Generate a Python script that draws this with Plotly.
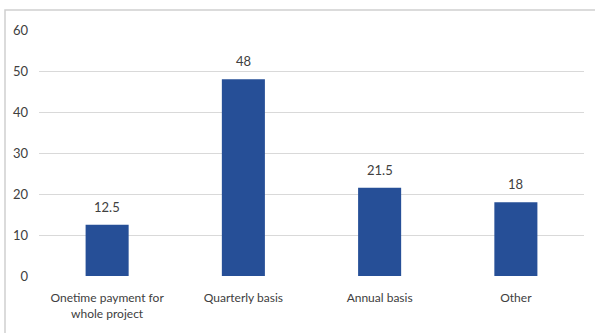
import plotly.graph_objects as go

categories = ["Onetime payment for<br>whole project", "Quarterly basis", "Annual basis", "Other"]
values = [12.5, 48, 21.5, 18]
value_labels = ["12.5", "48", "21.5", "18"]

FONT = "Lato"
TEXT = "#404040"

fig = go.Figure(
    go.Bar(
        x=categories,
        y=values,
        marker=dict(color="#264F97", line=dict(width=0)),
        hoverinfo="skip",
    )
)

# value labels sitting above each bar
for cat, val, lab in zip(categories, values, value_labels):
    fig.add_annotation(
        x=cat, y=val, text=lab, showarrow=False,
        yanchor="bottom", yshift=8,
        font=dict(family=FONT, size=13, color=TEXT),
    )

fig.update_layout(
    width=595,
    height=333,
    margin=dict(l=39, r=11, t=30, b=57),
    paper_bgcolor="white",
    plot_bgcolor="white",
    bargap=0.684,
    showlegend=False,
    font=dict(family=FONT, size=13, color=TEXT),
    shapes=[
        dict(
            type="rect", xref="paper", yref="paper",
            x0=-34 / 545, x1=1.1, y0=-0.5, y1=1 + 20 / 246,
            line=dict(color="#D0D0D0", width=1.5),
            fillcolor="rgba(0,0,0,0)", layer="below",
        )
    ],
)

fig.update_xaxes(
    showgrid=False, showline=False, zeroline=False,
    ticks="", ticklabelstandoff=13,
    tickfont=dict(family=FONT, size=12, color=TEXT),
)
fig.update_yaxes(
    range=[0, 60], dtick=10,
    showgrid=True, gridcolor="#D9D9D9", gridwidth=1,
    zeroline=False, showline=False,
    ticks="", ticklabelstandoff=10,
    tickfont=dict(family=FONT, size=13, color=TEXT),
)

fig.write_html("out.html")
